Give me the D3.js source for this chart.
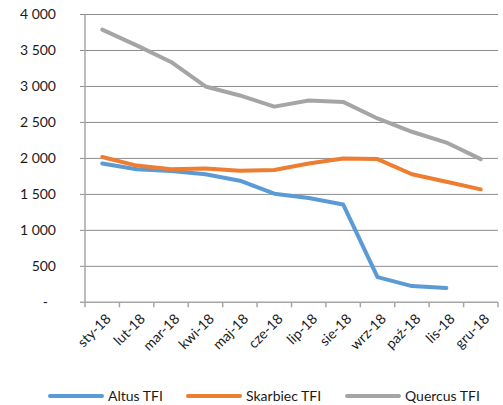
<!DOCTYPE html>
<html><head><meta charset="utf-8">
<script src="https://cdn.jsdelivr.net/npm/d3@7"></script>
<style>body{margin:0;background:#fff;}svg{display:block;font-family:Lato,"Open Sans",sans-serif;}</style>
</head><body><svg id="c" width="503" height="405"></svg>
<script>
const months = ["sty-18","lut-18","mar-18","kwi-18","maj-18","cze-18","lip-18","sie-18","wrz-18","paź-18","lis-18","gru-18"];
const altus = [1930,1850,1825,1780,1690,1510,1450,1360,350,225,200,null];
const skarbiec = [2020,1900,1850,1860,1830,1840,1930,2000,1990,1780,1675,1570];
const quercus = [3790,3570,3340,3000,2875,2720,2805,2785,2555,2370,2220,1990];
const yTicks = [0,500,1000,1500,2000,2500,3000,3500,4000];
const seriesNames = ["Altus TFI","Skarbiec TFI","Quercus TFI"];
const colors = ["#5B9BD5","#ED7D31","#A5A5A5"];

const svg = d3.select("#c");
const L=85,R=498,T=14.5,B=302.3;
const x = d3.scaleBand().domain(months).range([L,R]);
const y = d3.scaleLinear().domain([0,4000]).range([B,T]);
const fmt = v => v===0 ? "-" : d3.format(",")(v).replace(/,/g," ");

// gridlines
svg.append("g").selectAll("line").data(yTicks.filter(v=>v>0)).join("line")
  .attr("x1",L-5).attr("x2",R).attr("y1",d=>y(d)).attr("y2",d=>y(d))
  .attr("stroke","#8c8c8c").attr("stroke-width",1);
// y labels
svg.append("g").selectAll("text").data(yTicks).join("text")
  .attr("x",d=>d===0?48:56).attr("y",d=>y(d)).attr("dy","0.35em").attr("text-anchor","end")
  .attr("font-size",14).attr("fill","#1a1a1a").text(fmt);
// y axis line
svg.append("line").attr("x1",L).attr("x2",L).attr("y1",T).attr("y2",B)
  .attr("stroke","#a6a6a6").attr("stroke-width",1.5);
svg.append("line").attr("x1",L-5).attr("x2",L).attr("y1",B).attr("y2",B).attr("stroke","#a6a6a6").attr("stroke-width",1.5);
// x axis
svg.append("line").attr("x1",L).attr("x2",R).attr("y1",B).attr("y2",B)
  .attr("stroke","#a6a6a6").attr("stroke-width",1.5);
const bounds = months.map(m=>x(m)).concat([R]);
svg.append("g").selectAll("line").data(bounds).join("line")
  .attr("x1",d=>d).attr("x2",d=>d).attr("y1",B).attr("y2",B+5)
  .attr("stroke","#a6a6a6").attr("stroke-width",1.5);
// x labels
svg.append("g").selectAll("text").data(months).join("text")
  .attr("transform",d=>`translate(${x(d)+x.bandwidth()/2+6},${B+14}) rotate(-45)`)
  .attr("text-anchor","end").attr("dy","0.35em").attr("font-size",14).attr("fill","#1a1a1a").text(d=>d);

// lines
const data=[altus,skarbiec,quercus];
const line = d3.line().defined(d=>d[1]!=null).x(d=>x(d[0])+x.bandwidth()/2).y(d=>y(d[1]));
data.forEach((s,i)=>{
  svg.append("path").attr("d",line(months.map((m,j)=>[m,s[j]])))
    .attr("fill","none").attr("stroke",colors[i]).attr("stroke-width",4)
    .attr("stroke-linejoin","round").attr("stroke-linecap","round");
});

// legend
const lx=[50,188,347];
seriesNames.forEach((n,i)=>{
  svg.append("line").attr("x1",lx[i]).attr("x2",lx[i]+52).attr("y1",396).attr("y2",396)
    .attr("stroke",colors[i]).attr("stroke-width",4).attr("stroke-linecap","round");
  svg.append("text").attr("x",lx[i]+58).attr("y",396).attr("dy","0.35em")
    .attr("font-size",14).attr("fill","#1a1a1a").text(n);
});
</script></body></html>
